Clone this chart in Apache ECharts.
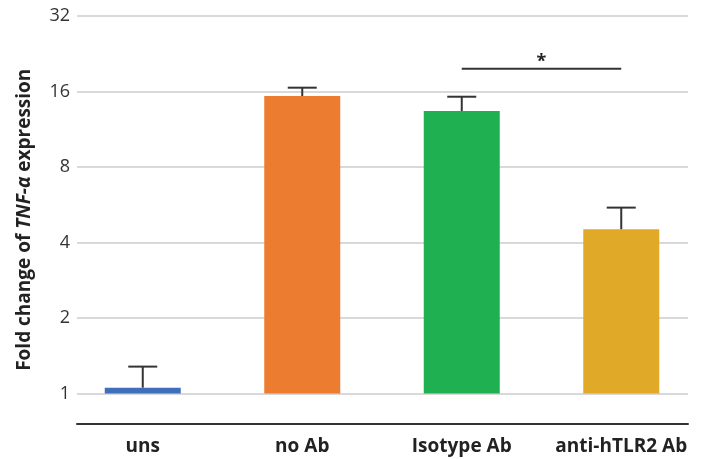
<!DOCTYPE html>
<html>
<head>
<meta charset="utf-8">
<script src="https://cdn.jsdelivr.net/npm/echarts@6/dist/echarts.min.js"></script>
<style>
  html, body { margin: 0; padding: 0; background: #fff; }
  #chart { width: 701px; height: 459px; }
</style>
</head>
<body>
<div id="chart"></div>
<script>
// Groups along the x axis
const categories = ['uns', 'no Ab', 'Isotype Ab', 'anti-hTLR2 Ab'];
// Mean fold change of TNF-α expression
const meanValues = [1.055, 15.35, 13.38, 4.52];
// Upper end of the error bar (mean + SD)
const upperValues = [1.28, 16.57, 15.25, 5.51];
// Bar colours per group
const barColors = ['#3f6fba', '#ec7d30', '#1fb052', '#e0aa28'];
// Significance bracket: from group, to group, height, label
const sigFrom = ['Isotype Ab'];
const sigTo = ['anti-hTLR2 Ab'];
const sigHeight = [19.7];
const sigLabel = ['*'];
// Y tick values (log2 scale)
const yTicks = [1, 2, 4, 8, 16, 32];

const FONT = '"Open Sans", "Noto Sans", sans-serif';
const chart = echarts.init(document.getElementById('chart'));

const option = {
  animation: false,
  backgroundColor: '#fff',
  grid: [
    { left: 77, width: 611, top: 16, bottom: 65.5 },
    { left: 63, width: 639, top: 16, bottom: 65.5 }
  ],
  xAxis: [
    {
      gridIndex: 0, type: 'category', data: categories, offset: 30,
      axisLine: { lineStyle: { color: '#333', width: 2 } },
      axisTick: { show: false }, axisLabel: { show: false }
    },
    {
      gridIndex: 1, type: 'category', data: categories, offset: 30,
      axisLine: { show: false }, axisTick: { show: false },
      axisLabel: {
        interval: 0, hideOverlap: false,
        color: '#222', fontFamily: FONT, fontWeight: 'bold', fontSize: 19, margin: 14
      }
    }
  ],
  yAxis: [
    {
      gridIndex: 0, type: 'log', logBase: 2, min: yTicks[0], max: yTicks[yTicks.length - 1],
      axisLine: { show: false }, axisTick: { show: false },
      axisLabel: { color: '#333', fontFamily: FONT, fontSize: 18, margin: 7 },
      splitLine: { lineStyle: { color: '#d9d9d9', width: 2 } },
      name: 'Fold change of {i|TNF-α} expression',
      nameLocation: 'middle', nameGap: 43,
      nameTextStyle: {
        color: '#222', fontFamily: FONT, fontWeight: 'bold', fontSize: 19,
        padding: [0, 30, 0, 0],
        rich: { i: { fontStyle: 'italic', fontWeight: 'bold', fontFamily: FONT, fontSize: 19, color: '#222' } }
      }
    },
    {
      gridIndex: 1, type: 'log', logBase: 2, min: yTicks[0], max: yTicks[yTicks.length - 1],
      show: false, splitLine: { show: false }
    }
  ],
  series: [
    {
      type: 'bar', xAxisIndex: 1, yAxisIndex: 1, barWidth: 76,
      data: meanValues.map((v, i) => ({ value: v, itemStyle: { color: barColors[i] } })),
      z: 2
    },
    {
      // error bars: stem from the bar top up to the upper value, with a cap
      type: 'custom', xAxisIndex: 1, yAxisIndex: 1, z: 3,
      data: categories.map((c, i) => [i, meanValues[i], upperValues[i]]),
      renderItem: function (params, api) {
        const top = api.coord([api.value(0), api.value(2)]);
        const base = api.coord([api.value(0), api.value(1)]);
        const half = 14.5;
        const style = { stroke: '#333', lineWidth: 2 };
        return {
          type: 'group',
          children: [
            { type: 'line', shape: { x1: base[0], y1: base[1], x2: top[0], y2: top[1] }, style: style },
            { type: 'line', shape: { x1: top[0] - half, y1: top[1], x2: top[0] + half, y2: top[1] }, style: style }
          ]
        };
      }
    },
    {
      // significance bracket
      type: 'custom', xAxisIndex: 1, yAxisIndex: 1, z: 3,
      data: sigFrom.map((f, i) => [categories.indexOf(f), categories.indexOf(sigTo[i]), sigHeight[i]]),
      renderItem: function (params, api) {
        const a = api.coord([api.value(0), api.value(2)]);
        const b = api.coord([api.value(1), api.value(2)]);
        return {
          type: 'group',
          children: [
            { type: 'line', shape: { x1: a[0], y1: a[1], x2: b[0], y2: b[1] }, style: { stroke: '#333', lineWidth: 2 } },
            {
              type: 'text',
              style: {
                x: (a[0] + b[0]) / 2, y: a[1] + 2, text: sigLabel[params.dataIndex],
                align: 'center', verticalAlign: 'bottom',
                font: 'bold 18px ' + FONT, fill: '#222'
              }
            }
          ]
        };
      }
    }
  ]
};

chart.setOption(option);
</script>
</body>
</html>
